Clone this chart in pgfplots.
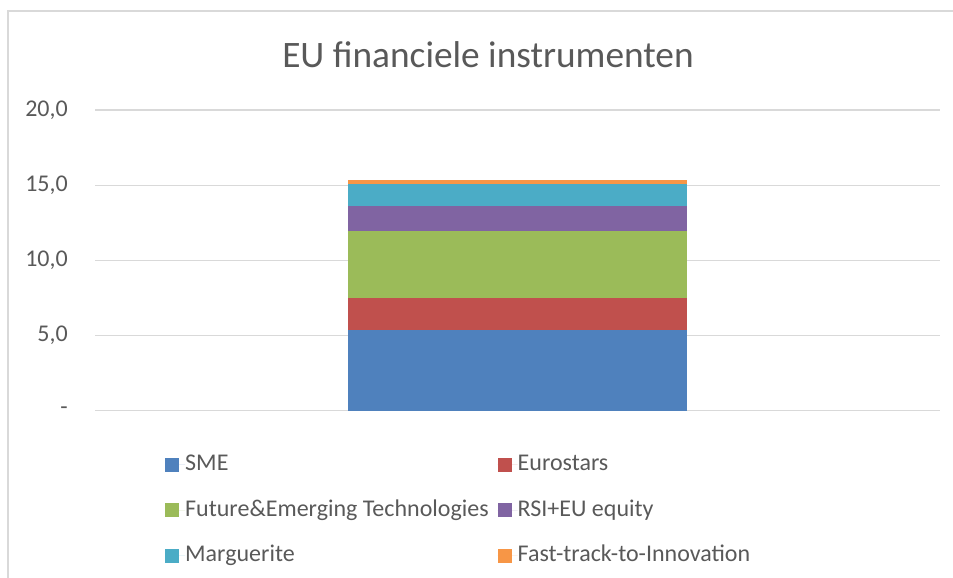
\documentclass[border=0pt]{standalone}
\usepackage{pgfplots}
\pgfplotsset{compat=1.18}
\usepackage{fontspec}
\setmainfont{Carlito}
\definecolor{txt}{HTML}{595959}
\definecolor{grd}{HTML}{D9D9D9}
\definecolor{cA}{HTML}{4F81BD}
\definecolor{cB}{HTML}{C0504D}
\definecolor{cC}{HTML}{9BBB59}
\definecolor{cD}{HTML}{8064A2}
\definecolor{cE}{HTML}{4BACC6}
\definecolor{cF}{HTML}{F79646}
\begin{document}
\begin{tikzpicture}
\useasboundingbox (0,0) rectangle (714.75pt,433.5pt);
\draw[grd,line width=1.1pt] (6pt,0) -- (6pt,425.25pt) -- (714.75pt,425.25pt);
\node[txt,font=\fontsize{28}{32}\selectfont] at (366pt,392.25pt) {EU financiele instrumenten};
\begin{axis}[
  at={(71.25pt,125.5pt)}, anchor=south west,
  scale only axis, width=633.75pt, height=225.5pt,
  xmin=-0.5, xmax=0.5, ymin=0, ymax=20,
  axis line style={draw=none},
  ybar stacked, bar width=253.5pt,
  xtick=\empty,
  ytick={0,5,10,15,20},
  yticklabels={-\hspace{4.5pt},{5,0},{10,0},{15,0},{20,0}},
  ymajorgrids, grid style={grd,line width=0.8pt},
  major tick length=0pt,
  yticklabel style={txt,font=\fontsize{18}{21}\selectfont,inner sep=0pt,xshift=-20.25pt},
  legend columns=2,
  legend cell align=left,
  legend style={draw=none, fill=none, inner sep=0pt,
    at={(0.0828,-0.143)}, anchor=north west,
    font=\fontsize{18}{21}\selectfont, text=txt,
    nodes={inner xsep=0pt, inner ysep=0pt, text height=12.5pt, text depth=4pt},
    row sep=17.6pt,
    /tikz/every even column/.append style={column sep=6.75pt}},
  legend image code/.code={\fill[#1] (0pt,-5.25pt) rectangle (10.5pt,5.25pt); \path (0pt,0pt) -- (15pt,0pt);},
]
\addplot[fill=cA,draw=none] coordinates {(0,5.36)};
\addlegendentry{SME}
\addplot[fill=cB,draw=none] coordinates {(0,2.13)};
\addlegendentry{Eurostars}
\addplot[fill=cC,draw=none] coordinates {(0,4.45)};
\addlegendentry{Future\&Emerging Technologies}
\addplot[fill=cD,draw=none] coordinates {(0,1.66)};
\addlegendentry{RSI+EU equity}
\addplot[fill=cE,draw=none] coordinates {(0,1.46)};
\addlegendentry{Marguerite}
\addplot[fill=cF,draw=none] coordinates {(0,0.27)};
\addlegendentry{Fast-track-to-Innovation}
\end{axis}
\end{tikzpicture}
\end{document}
